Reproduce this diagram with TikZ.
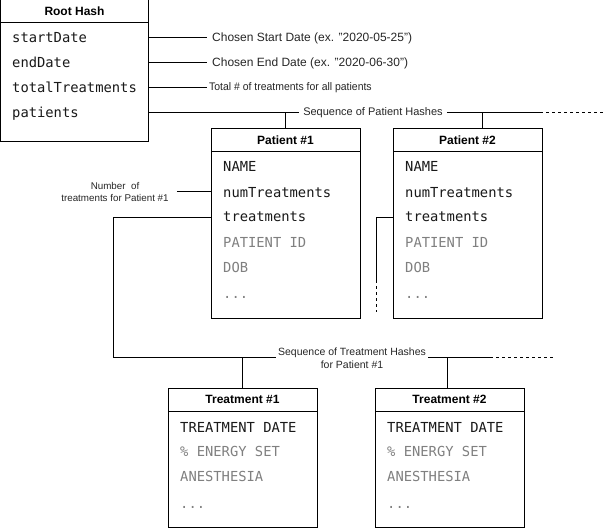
\documentclass[tikz,border=0pt]{standalone}
\usepackage{fontspec}
\setmainfont{Liberation Sans}
\newfontfamily\codefont{DejaVu Sans Mono}

\tikzset{
    box/.style={draw, rectangle, line width=1, fill=white, inner sep=0},
    head/.style={draw, rectangle, line width=1, minimum height=23, inner sep=0, font=\fontsize{12}{14}\selectfont\bfseries},
    field/.style={anchor=base west, inner sep=0, font=\codefont\fontsize{13.8}{16}\selectfont, text=black!90},
    faded/.style={field, text=black!50},
    note/.style={inner sep=4, font=\fontsize{11}{13}\selectfont, text=black!85},
    link/.style={draw, line width=1},
    more/.style={draw, line width=1, dash pattern=on 3 off 3}
}

\begin{document}
\begin{tikzpicture}[x=1pt, y=-1pt]
    \useasboundingbox (0,0) rectangle (604,529);

    % root hash
    \node [box, minimum width=148, minimum height=142] at (74.5,71) (root) {};
    \node [head, minimum width=148, anchor=north] at (root.north) (rootHead) {Root Hash};
    \node [field] at (12,43) (startDate) {startDate};
    \node [field] at (12,68) (endDate) {endDate};
    \node [field] at (12,93) (totalTreat) {totalTreatments};
    \node [field] at (12,118) (patients) {patients};

    \node [note, anchor=west, inner xsep=5, font=\fontsize{12}{14}\selectfont] at (207,38) (startNote) {Chosen Start Date (ex. "2020-05-25")};
    \node [note, anchor=west, inner xsep=5, font=\fontsize{12}{14}\selectfont] at (207,63) (endNote) {Chosen End Date (ex. "2020-06-30")};
    \node [note, anchor=west, inner xsep=2, xscale=0.95] at (207,88) (totalNote) {Total \# of treatments for all patients};
    \node [note] at (373,113) (patSeq) {Sequence of Patient Hashes};
    \coordinate (patEnd) at (540,113);
    \coordinate (patMore) at (604,113);

    \path [link] (startNote.west -| root.east) -- (startNote.west);
    \path [link] (endNote.west -| root.east) -- (endNote.west);
    \path [link] (totalNote.west -| root.east) -- (totalNote.west);
    \path [link] (patSeq.west -| root.east) -- (patSeq.west);
    \path [link] (patSeq.east) -- (patEnd);
    \path [more] (patEnd) -- (patMore);

    % patient #1
    \node [box, minimum width=149, minimum height=189] at (285.5,223.5) (pat1) {};
    \node [head, minimum width=149, anchor=north] at (pat1.north) (pat1Head) {Patient \#1};
    \node [field] at (223,172) (pName1) {NAME};
    \node [field] at (223,197) (pNum1) {numTreatments};
    \node [field] at (223,222) (pTreat1) {treatments};
    \node [faded] at (223,247) (pId1) {PATIENT ID};
    \node [faded] at (223,272) (pDob1) {DOB};
    \node [faded] at (223,298) (pDots1) {...};

    % patient #2
    \node [box, minimum width=149, minimum height=189] at (467.5,223.5) (pat2) {};
    \node [head, minimum width=149, anchor=north] at (pat2.north) (pat2Head) {Patient \#2};
    \node [field] at (405,172) (pName2) {NAME};
    \node [field] at (405,197) (pNum2) {numTreatments};
    \node [field] at (405,222) (pTreat2) {treatments};
    \node [faded] at (405,247) (pId2) {PATIENT ID};
    \node [faded] at (405,272) (pDob2) {DOB};
    \node [faded] at (405,298) (pDots2) {...};

    \path [link] (pat1.north) -- (pat1.north |- patSeq.west);
    \path [link] ([xshift=15]pat2.north) -- ([xshift=15]pat2.north |- patSeq.west);

    \node [note, align=center, inner xsep=8, font=\fontsize{9.8}{12.5}\selectfont] at (115,192) (numNote) {Number\ \ of\\treatments for Patient \#1};
    \path [link] (numNote.east) -- (numNote.east -| pat1.west);

    % treatments
    \node [note, align=center, inner sep=2, font=\fontsize{10.5}{12.5}\selectfont] at (352,358) (treatSeq) {Sequence of Treatment Hashes\\for Patient \#1};
    \coordinate (treatCorner) at (113,357);
    \coordinate (treatEnd) at (490,357);
    \coordinate (treatMore) at (554,357);
    \coordinate (p2Down) at (376,280);
    \coordinate (p2More) at (376,312);

    \path [link] (pat1.west |- pTreat1.west) -| (treatCorner) -- (treatCorner -| treatSeq.west);
    \path [link] (treatCorner -| treatSeq.east) -- (treatEnd);
    \path [more] (treatEnd) -- (treatMore);
    \path [link] (pat2.west |- pTreat2.west) -| (p2Down);
    \path [more] (p2Down) -- (p2More);

    % treatment #1
    \node [box, minimum width=149, minimum height=139] at (242.5,457.5) (tr1) {};
    \node [head, minimum width=149, anchor=north] at (tr1.north) (tr1Head) {Treatment \#1};
    \node [field] at (180,432) (tDate1) {TREATMENT DATE};
    \node [faded] at (180,456) (tEnergy1) {\% ENERGY SET};
    \node [faded] at (180,481) (tAnest1) {ANESTHESIA};
    \node [faded] at (180,508) (tDots1) {...};

    % treatment #2
    \node [box, minimum width=149, minimum height=139] at (449.5,457.5) (tr2) {};
    \node [head, minimum width=149, anchor=north] at (tr2.north) (tr2Head) {Treatment \#2};
    \node [field] at (387,432) (tDate2) {TREATMENT DATE};
    \node [faded] at (387,456) (tEnergy2) {\% ENERGY SET};
    \node [faded] at (387,481) (tAnest2) {ANESTHESIA};
    \node [faded] at (387,508) (tDots2) {...};

    \path [link] (tr1.north) -- (tr1.north |- treatCorner);
    \path [link] ([xshift=-2]tr2.north) -- ([xshift=-2]tr2.north |- treatCorner);

\end{tikzpicture}
\end{document}
